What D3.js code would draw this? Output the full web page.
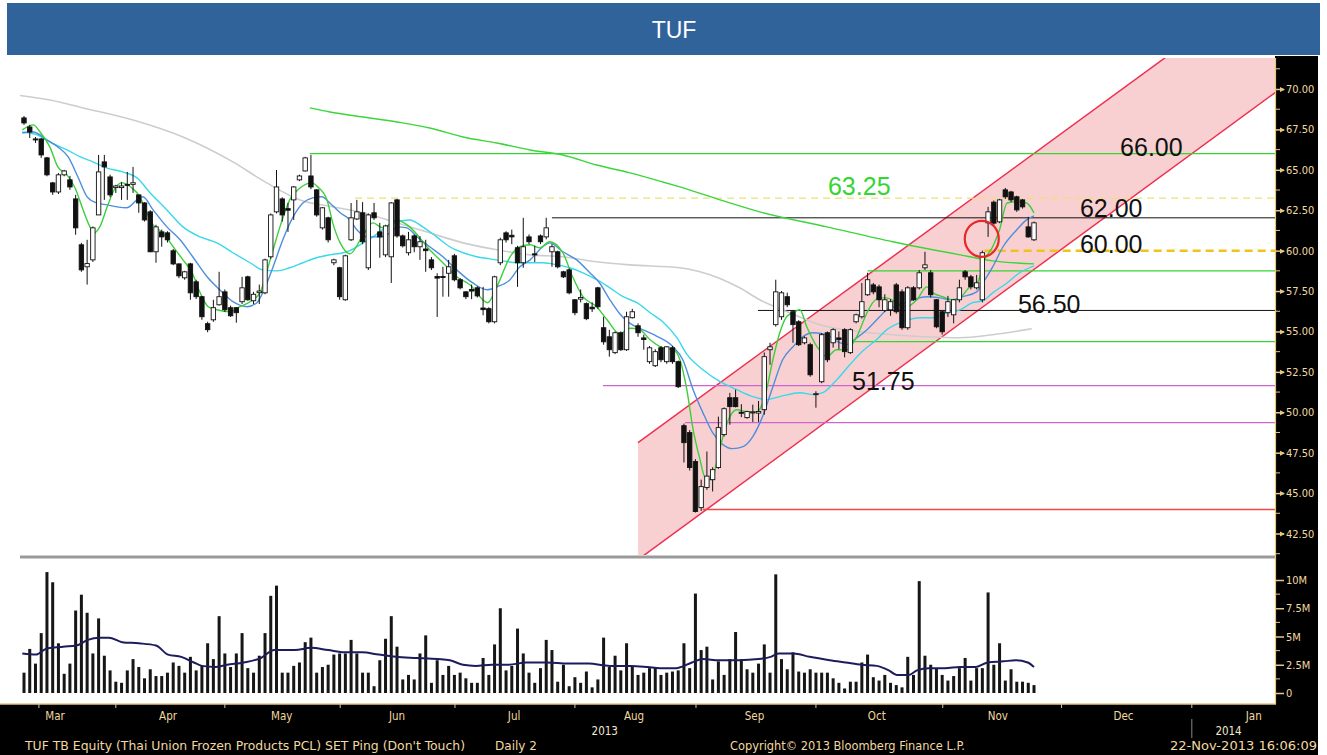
<!DOCTYPE html>
<html><head><meta charset="utf-8">
<script src="https://cdn.jsdelivr.net/npm/d3@7"></script>
<style>body{margin:0;background:#fff}svg{display:block}</style>
</head><body>
<svg id="chart" width="1327" height="755"></svg>
<script>
// ---------------- DATA ----------------
const title = "TUF";
const openP = [68.21,67.65,66.91,66.91,65.74,64.19,63.63,64.69,64.38,63.20,60.36,59.00,59.43,62.21,65.49,64.56,63.90,63.90,64.10,64.10,63.45,62.95,62.40,59.93,61.16,61.10,59.99,59.18,58.32,59.18,58.07,57.15,55.48,55.72,56.65,57.45,56.47,56.47,56.84,58.38,56.90,57.40,57.39,59.62,62.40,63.20,62.60,63.14,64.38,64.93,64.62,63.76,61.41,62.03,59.25,58.94,56.96,60.67,61.96,62.34,58.94,62.34,61.16,59.74,59.62,63.14,60.91,59.87,60.91,60.24,60.10,59.43,58.40,58.40,58.60,59.68,58.20,57.45,57.60,57.70,56.45,56.41,55.60,59.25,61.10,60.95,60.18,59.25,60.85,59.80,60.91,60.85,59.93,59.93,58.69,58.81,56.96,57.00,56.72,56.50,57.70,55.23,54.67,53.69,54.92,53.87,55.85,55.35,54.60,53.13,52.88,53.99,53.13,53.99,53.13,49.17,48.74,46.95,44.10,45.35,45.83,46.58,48.62,50.90,50.90,50.00,49.67,50.00,49.95,50.16,53.87,55.42,55.91,57.15,56.22,55.60,54.30,54.18,51.10,51.89,54.92,54.30,54.60,55.11,53.69,55.60,55.91,57.27,57.88,57.76,56.30,56.34,57.88,57.45,55.23,57.70,57.70,58.94,58.63,56.96,56.22,56.16,56.03,56.96,58.69,58.38,57.70,56.96,61.72,63.00,61.78,63.76,63.63,63.33,63.14,61.47,60.67];
const highP = [68.33,67.78,67.03,66.97,65.80,64.25,64.80,65.00,64.62,63.45,60.48,60.67,61.50,65.92,65.92,64.70,64.07,64.25,64.87,65.18,63.45,63.00,62.50,61.60,61.30,61.20,60.10,59.20,58.75,59.25,58.20,57.20,55.60,56.96,58.69,57.60,56.60,56.50,58.38,58.45,57.45,57.90,59.50,62.30,64.99,63.30,62.95,64.00,64.70,65.80,65.92,63.80,62.70,62.10,59.50,59.00,59.75,62.95,63.14,63.00,62.30,62.95,61.72,61.60,63.00,63.20,61.00,61.16,61.00,60.90,60.67,59.60,58.60,59.00,59.43,59.80,58.30,57.50,57.90,57.80,57.76,56.50,58.45,60.80,61.20,61.30,60.30,62.03,61.00,60.30,61.00,62.03,60.40,60.00,58.75,58.90,57.00,57.60,56.80,56.80,57.76,55.91,55.10,55.00,55.00,56.22,56.40,55.50,54.80,54.10,53.90,54.10,54.10,54.10,53.20,49.30,48.90,47.10,45.83,47.57,46.60,49.73,50.30,51.20,51.40,50.50,50.10,50.47,50.70,53.70,54.30,58.20,57.50,57.40,56.30,55.70,54.70,54.30,51.30,54.90,55.00,55.20,55.00,55.20,55.20,56.10,58.00,58.63,58.00,57.90,57.30,57.00,58.00,57.60,57.80,57.80,58.80,59.93,58.80,57.00,56.30,57.20,57.00,58.20,58.80,58.50,58.50,60.00,62.71,63.10,63.20,63.88,63.70,63.40,63.20,62.09,61.80];
const lowP = [67.78,66.97,66.66,65.74,64.60,63.45,63.50,64.60,63.76,60.98,58.69,57.90,59.30,62.20,63.14,63.30,63.57,63.14,63.14,63.57,62.34,61.80,59.90,59.25,60.24,60.50,59.10,58.30,58.20,56.96,57.00,55.72,54.95,55.60,56.60,56.20,55.90,55.54,56.70,56.90,56.70,56.70,57.30,59.50,62.30,61.80,61.16,61.90,64.30,64.90,63.80,62.10,61.30,60.50,59.10,56.96,56.90,60.60,61.90,60.40,58.80,61.90,59.56,59.60,58.00,60.80,60.20,59.70,59.90,59.43,58.69,58.80,55.90,57.15,57.15,58.10,57.60,57.00,57.00,57.10,56.00,55.50,55.50,59.10,60.50,60.40,57.76,58.94,60.40,59.30,60.40,60.70,59.00,58.90,58.30,57.30,56.00,56.80,55.70,56.20,56.40,54.18,53.44,53.60,53.80,53.80,55.80,54.67,53.87,53.00,52.80,53.10,53.00,53.00,51.50,46.89,46.40,43.80,43.90,45.20,45.10,46.50,48.50,49.23,50.30,49.70,49.60,49.40,49.40,49.85,52.94,55.30,55.72,56.50,54.30,54.10,54.20,52.20,50.28,51.80,53.10,54.00,53.90,53.40,53.60,55.50,55.80,57.20,57.30,56.50,56.20,55.97,56.10,55.10,55.10,56.90,57.60,58.80,57.10,55.20,54.80,55.90,55.50,56.80,58.20,57.60,57.60,56.80,60.85,61.60,61.70,63.20,63.00,62.40,62.60,60.80,60.60];
const closeP = [67.90,67.34,66.85,65.92,64.69,63.63,64.69,64.93,63.94,61.41,58.81,59.20,61.41,64.87,65.18,63.45,64.00,64.00,64.07,64.20,62.95,61.90,59.93,61.47,60.85,60.67,59.18,58.44,58.69,57.39,57.15,55.91,55.11,56.47,57.15,56.34,55.97,56.16,57.70,56.96,57.30,57.50,59.43,62.21,63.94,62.21,62.50,63.94,64.62,65.74,63.94,62.21,62.65,60.67,59.43,57.15,59.68,62.03,62.40,60.55,62.21,62.03,60.85,61.53,62.95,60.91,60.30,60.67,60.24,60.55,60.00,58.94,58.30,58.40,59.00,58.20,57.70,57.15,57.50,57.20,56.35,55.60,58.38,60.67,60.67,60.85,59.25,60.24,60.55,59.75,60.55,61.41,60.24,59.00,58.38,57.39,56.16,57.10,55.79,56.40,56.53,54.36,53.87,54.92,53.87,55.91,56.22,54.92,54.50,53.99,53.75,53.25,54.05,53.13,51.58,48.12,46.58,43.86,45.40,46.05,46.45,49.05,50.22,50.35,50.35,49.95,50.04,50.02,50.05,53.44,54.05,57.45,57.39,56.65,55.42,54.18,54.60,52.32,51.15,54.80,53.25,55.11,54.50,53.75,55.11,56.03,56.84,58.20,57.45,56.96,56.96,56.84,56.22,55.23,57.70,56.96,58.63,59.12,57.27,55.29,54.98,56.84,56.96,57.70,58.38,57.76,58.01,59.87,62.40,61.70,63.14,63.33,63.14,62.52,62.71,60.85,61.72];
const volumeM = [1.8,3.9,2.6,5.3,10.7,9.8,4.4,1.7,2.6,7.3,8.7,7.1,3.5,6.6,3.3,2.0,1.0,0.9,2.0,3.0,2.3,1.3,2.1,1.5,1.5,1.8,2.7,2.4,1.8,3.2,2.0,2.4,4.4,3.0,6.8,3.5,2.3,3.5,5.3,2.2,1.8,3.3,5.3,8.6,9.5,1.8,1.8,2.4,2.7,4.5,4.9,1.8,2.3,2.5,3.4,3.5,3.5,4.7,3.5,1.8,1.8,0.6,2.9,4.8,6.8,4.1,1.2,1.6,1.2,3.5,5.1,0.9,2.9,1.6,2.4,1.6,1.8,1.3,0.9,0.9,3.1,1.6,4.3,7.5,2.0,2.4,5.7,3.5,1.8,0.9,2.2,4.7,3.8,1.0,2.5,0.6,1.4,0.9,1.9,0.5,1.2,4.9,2.3,3.3,2.0,4.4,2.4,1.6,1.8,2.2,2.3,1.6,1.8,1.9,2.0,4.4,2.2,8.8,3.8,4.1,1.2,2.8,1.6,3.0,5.4,3.0,2.1,1.8,2.6,4.3,1.8,10.5,3.0,2.1,3.6,1.9,1.8,2.1,1.8,1.8,1.8,1.3,0.9,0.4,1.0,1.0,2.7,3.4,1.4,1.1,1.6,0.9,0.7,0.5,3.2,1.6,9.9,3.3,2.5,2.2,1.6,1.1,1.5,2.2,3.1,1.1,2.2,2.2,8.9,2.5,4.4,1.1,2.1,1.0,1.0,0.9,0.7];

// moving averages: [trading-day index, value]
const maFast = [[-0.3,67.47],[1.6,67.78],[2.8,67.34],[4.5,66.42],[5.9,65.18],[7.5,64.69],[8.9,63.88],[10.3,62.52],[11.5,61.47],[12.2,61.1],[13.2,61.47],[14.5,62.71],[15.9,63.88],[17.1,64.19],[18.8,63.88],[20.2,63.33],[21.4,62.34],[22.5,61.6],[24.2,61.1],[26.0,60.24],[27.7,59.43],[29.3,58.63],[30.7,57.39],[32.1,56.53],[33.6,56.34],[35.9,56.22],[37.6,56.53],[39.4,56.84],[41.1,57.39],[42.9,59.43],[44.6,61.47],[46.3,63.14],[48.1,63.88],[50.2,64.19],[51.2,63.94],[52.8,63.14],[53.8,61.72],[55.1,60.48],[56.8,59.8],[58.9,60.85],[60.8,61.72],[62.5,61.41],[65.0,61.9],[67.2,61.47],[70.7,60.05],[73.0,59.25],[75.4,58.38],[77.7,57.89],[80.8,56.78],[82.4,57.76],[84.7,59.62],[86.4,60.24],[88.2,60.36],[89.9,60.17],[91.6,60.55],[93.9,59.87],[95.6,58.38],[97.4,57.15],[99.8,56.53],[101.6,55.72],[103.8,54.85],[105.6,55.2],[107.3,55.11],[109.1,54.49],[111.3,53.99],[113.1,53.87],[114.3,53.25],[115.5,51.4],[116.6,48.93],[117.8,47.07],[118.6,46.02],[119.9,45.83],[120.7,46.89],[121.8,48.5],[123.0,49.73],[124.2,50.16],[126.0,50.04],[127.7,50.04],[129.1,50.97],[130.5,53.25],[131.7,54.92],[132.9,55.91],[134.0,56.16],[135.2,56.34],[136.4,55.29],[138.2,54.05],[139.9,53.44],[141.6,53.87],[143.4,53.87],[145.1,54.67],[146.9,56.16],[147.9,56.78],[149.1,57.08],[150.3,57.08],[152.1,56.78],[153.8,56.53],[155.6,56.96],[157.3,57.76],[158.4,57.39],[160.1,57.15],[161.8,56.96],[163.1,57.08],[164.8,57.76],[166.2,58.07],[167.4,59.43],[168.8,60.24],[170.0,61.29],[171.3,62.95],[173.0,63.02],[174.7,62.95],[176.0,62.34]];
const maMid = [[-0.3,67.28],[1.6,67.34],[4.0,66.85],[5.9,66.42],[7.7,65.8],[9.4,64.56],[11.0,63.33],[12.7,62.95],[14.5,62.83],[16.2,62.71],[17.9,62.65],[19.7,63.14],[20.7,63.33],[22.5,62.52],[24.9,61.47],[27.2,60.67],[29.4,59.62],[31.9,58.38],[34.1,57.58],[36.4,56.84],[38.9,56.53],[40.6,56.78],[41.6,57.39],[43.4,58.99],[45.1,60.67],[46.9,62.09],[48.6,62.95],[50.3,63.26],[51.9,63.33],[53.3,62.95],[55.1,62.34],[56.8,61.9],[58.0,61.29],[59.8,60.85],[62.0,60.85],[63.8,61.1],[65.0,61.47],[66.7,61.41],[68.5,60.85],[70.7,60.24],[73.0,59.62],[75.4,58.81],[78.2,58.0],[80.7,57.58],[82.4,57.76],[84.7,58.2],[86.4,59.0],[88.2,59.43],[90.4,60.24],[91.6,60.48],[93.9,59.93],[96.3,59.43],[98.6,58.63],[100.3,58.0],[102.1,56.96],[103.8,56.1],[105.6,55.5],[107.8,55.11],[110.3,54.7],[113.1,54.05],[114.8,53.25],[116.6,51.4],[118.3,49.98],[120.0,48.74],[121.8,48.0],[123.5,47.75],[125.3,47.88],[127.0,48.5],[128.7,49.73],[130.5,51.58],[132.2,53.25],[134.0,54.05],[135.7,54.67],[137.5,54.92],[139.9,54.8],[141.6,54.4],[143.4,54.2],[145.1,54.6],[146.9,55.11],[149.1,55.91],[150.3,56.34],[152.6,56.65],[154.9,56.96],[157.3,57.15],[159.6,57.08],[161.7,56.96],[163.6,57.15],[166.0,57.45],[167.1,58.0],[168.8,58.99],[170.6,60.24],[173.0,61.29],[174.7,61.9],[176.0,62.15]];
const maSlow = [[-0.3,67.34],[2.3,67.16],[4.5,66.72],[7.5,66.23],[9.8,65.8],[12.0,65.49],[14.5,65.11],[17.2,64.87],[19.7,64.5],[22.0,63.57],[24.9,62.52],[27.7,61.47],[30.7,60.85],[33.6,60.48],[36.4,59.87],[39.4,59.25],[41.6,58.81],[44.1,58.75],[46.3,58.94],[48.6,59.25],[51.0,59.56],[53.3,59.74],[55.6,59.87],[56.8,60.0],[59.1,60.48],[60.8,60.85],[63.2,61.47],[65.0,61.78],[67.2,61.9],[69.5,61.47],[71.9,60.85],[74.2,60.24],[76.5,59.87],[78.9,59.62],[81.2,59.49],[83.4,59.37],[85.9,59.25],[88.2,59.25],[90.4,59.25],[92.9,59.12],[95.1,58.94],[97.4,58.63],[99.8,58.2],[102.1,57.7],[104.4,57.15],[106.8,56.78],[109.1,56.16],[111.3,55.6],[113.8,54.6],[115.5,53.6],[118.3,52.63],[121.3,51.89],[124.2,51.4],[127.0,50.97],[129.4,50.78],[131.7,50.97],[135.2,51.21],[137.5,51.09],[139.2,51.21],[141.6,52.0],[143.9,52.94],[146.2,53.8],[148.6,54.5],[150.3,55.1],[153.1,55.6],[156.1,55.85],[158.4,55.85],[160.8,56.16],[163.1,56.34],[165.3,56.78],[167.1,56.9],[168.8,57.39],[171.3,58.0],[173.5,58.63],[176.0,59.06]];
const ma100 = [[-0.7,69.6],[4.5,69.32],[10.3,68.83],[19.0,68.08],[27.7,67.03],[36.4,65.49],[42.3,64.19],[48.1,63.14],[53.8,62.71],[59.1,62.34],[65.0,61.72],[70.7,61.1],[76.5,60.48],[82.4,60.05],[88.2,59.74],[93.9,59.62],[99.8,59.31],[105.6,59.12],[114.3,58.94],[117.8,58.69],[124.7,57.7],[128.2,56.96],[133.4,56.16],[138.7,55.42],[145.6,54.98],[151.4,54.8],[157.3,54.67],[163.1,54.61],[168.8,54.8],[175.6,55.17]];
const ma200 = [[49.8,68.83],[53.3,68.58],[59.1,68.27],[65.0,67.96],[70.7,67.59],[76.5,67.03],[82.4,66.66],[88.2,66.23],[93.9,65.92],[99.8,65.30],[105.6,64.81],[111.3,64.25],[114.3,63.94],[121.3,63.14],[128.2,62.40],[139.9,61.47],[151.4,60.55],[163.1,59.74],[168.8,59.37],[176.0,59.18]];
const volMA = [[-0.3,3.5],[2.1,3.4],[3.8,3.9],[6.8,4.1],[9.1,4.2],[11.1,4.7],[13.1,4.9],[14.8,4.9],[17.1,4.5],[20.0,4.4],[23.0,4.2],[25.1,3.4],[27.4,3.2],[29.6,2.7],[31.0,2.4],[33.3,2.3],[35.4,2.5],[38.3,2.7],[41.3,3.1],[43.6,3.8],[47.2,3.8],[50.0,4.0],[53.0,3.8],[55.9,3.6],[58.9,3.6],[61.8,3.4],[64.8,3.2],[68.5,3.1],[72.1,3.0],[74.2,2.9],[76.5,2.5],[78.7,2.4],[81.5,2.5],[84.5,2.5],[87.5,2.7],[91.1,2.7],[94.8,2.6],[98.4,2.6],[102.1,2.4],[105.7,2.4],[108.7,2.3],[110.8,2.2],[113.6,2.2],[116.4,2.7],[118.3,3.0],[121.1,2.9],[124.6,2.9],[128.0,3.0],[130.1,3.2],[131.5,3.5],[134.1,3.5],[136.9,3.2],[140.4,2.9],[143.2,2.7],[146.0,2.5],[148.6,2.4],[150.7,2.0],[152.1,1.6],[154.2,1.6],[155.6,2.0],[157.7,2.2],[160.5,2.2],[163.1,2.3],[165.9,2.3],[167.9,2.7],[170.7,2.8],[172.8,2.9],[174.9,2.7],[176.0,2.3]];

// support / resistance levels
const levelNames = ["g66","y6325","k62","y60","g5875","k5630","g5437","m5165","m4936","r44"];
const levelValues = [66.0,63.25,62.03,60.0,58.75,56.3,54.37,51.65,49.36,43.98];
const levelStart = [49.8,57.7,92.0,167.4,147.0,127.9,143.9,100.9,115.2,118.3];
// trend channel: [index, price] end points
const channelUpper = [[107.0,48.12],[218.5,77.03]];
const channelLower = [[107.0,40.88],[218.5,69.90]];
// annotations
const annotText = ["66.00","63.25","62.00","60.00","56.50","51.75"];
const annotIdx = [191.0,140.1,184.0,184.0,173.2,144.3];
const annotPrice = [65.87,63.45,62.09,59.87,56.16,51.40];
const circleAt = [166.9,60.73];
// axes
const priceTicks = [42.5,45,47.5,50,52.5,55,57.5,60,62.5,65,67.5,70];
const volTicks = [0,2.5,5,7.5,10];
const volTickLabels = ["0","2.5M","5M","7.5M","10M"];
const monthLabels = ["Mar","Apr","May","Jun","Jul","Aug","Sep","Oct","Nov","Dec","Jan"];
const monthPos = [5.4,25.1,44.9,65.0,85.4,106.3,127.3,148.6,169.7,191.6,214.3];
const monthBounds = [2.6,16.0,35.0,55.1,75.1,96.0,117.1,138.0,160.1,180.8,203.5];
const yearLabels = ["2013","2014"];
const yearPos = [101.2,209.9];
const footerTexts = ["TUF TB Equity (Thai Union Frozen Products PCL) SET Ping (Don't Touch)","Daily 2","Copyright\u00A9 2013 Bloomberg Finance L.P.","22-Nov-2013 16:06:09"];

// ---------------- STYLE / LAYOUT ----------------
const L = {left:20, right:1275, top:58, pBottom:555, vTop:560, vBottom:703, axisRight:1318};
const tan = "#e9c77e", tanText = "#f1d9a0";
const levelStyle = {
  g66:{c:"#33d633",w:1.3}, y6325:{c:"#f0e070",w:1.3,d:"7,5"}, k62:{c:"#111",w:1},
  y60:{c:"#f3c21a",w:2.5,d:"8,5"}, g5875:{c:"#33d633",w:1.3}, k5630:{c:"#111",w:1},
  g5437:{c:"#33d633",w:1.3}, m5165:{c:"#cc66cc",w:1.2}, m4936:{c:"#cc66cc",w:1.2}, r44:{c:"#f04848",w:1.5}
};
const footerLayout = [{x:25,len:440},{x:495,len:42},{x:730,len:235},{x:1170,len:147}];
const axisFont = "'DejaVu Sans Condensed','DejaVu Sans',sans-serif";

const svg = d3.select("#chart");
const x = d3.scaleLinear().domain([0,176]).range([24,1034]);
const y = d3.scaleLinear().domain([42.5,70]).range([533.5,89]);
const yv = d3.scaleLinear().domain([0,10]).range([693,580]);

svg.append("rect").attr("width",1327).attr("height",755).attr("fill","#fff");
// title bar
svg.append("rect").attr("x",7).attr("y",3).attr("width",1313).attr("height",52).attr("fill","#31639b");
svg.append("text").attr("x",674).attr("y",38).attr("text-anchor","middle").attr("fill","#fff")
  .attr("font-family","'Liberation Sans',Arial,sans-serif").attr("font-size",23).text(title);

// black axis bands
svg.append("rect").attr("x",L.right).attr("y",56).attr("width",L.axisRight-L.right).attr("height",755-56).attr("fill","#000");
svg.append("rect").attr("x",0).attr("y",L.vBottom+1).attr("width",L.axisRight).attr("height",755-L.vBottom-1).attr("fill","#000");

const defs = svg.append("defs");
defs.append("clipPath").attr("id","pclip").append("rect")
  .attr("x",L.left).attr("y",L.top).attr("width",L.right-L.left).attr("height",L.pBottom-L.top);
const P = svg.append("g").attr("clip-path","url(#pclip)");

// channel
const chPoly = [channelUpper[0],channelUpper[1],channelLower[1],channelLower[0]];
P.append("path").attr("d", d3.line().x(d=>x(d[0])).y(d=>y(d[1]))(chPoly)+"Z")
  .attr("fill","#f9d0d1");
[channelUpper,channelLower].forEach(c=>{
  P.append("line").attr("x1",x(c[0][0])).attr("y1",y(c[0][1])).attr("x2",x(c[1][0])).attr("y2",y(c[1][1]))
   .attr("stroke","#ee3050").attr("stroke-width",1.5);
});

// levels
levelNames.forEach((n,i)=>{
  const s = levelStyle[n];
  P.append("line").attr("x1",x(levelStart[i])).attr("x2",L.right).attr("y1",y(levelValues[i])).attr("y2",y(levelValues[i]))
   .attr("stroke",s.c).attr("stroke-width",s.w).attr("stroke-dasharray",s.d||null);
});

// moving averages
const ln = d3.line().x(d=>x(d[0])).y(d=>y(d[1])).curve(d3.curveMonotoneX);
const maDefs = [[ma100,"#cdcdcd",1.6],[ma200,"#3bd63b",1.4],[maSlow,"#39d8ea",1.4],[maMid,"#4d8fdc",1.4],[maFast,"#3ccf3c",1.4]];
maDefs.forEach(([d,c,w])=>P.append("path").attr("d",ln(d)).attr("fill","none").attr("stroke",c).attr("stroke-width",w));

// candles
const idx = d3.range(openP.length);
const cg = P.append("g");
cg.selectAll("line.w").data(idx).join("line").attr("class","w")
  .attr("x1",i=>x(i)).attr("x2",i=>x(i)).attr("y1",i=>y(highP[i])).attr("y2",i=>y(lowP[i]))
  .attr("stroke","#111").attr("stroke-width",1);
cg.selectAll("rect.b").data(idx).join("rect").attr("class","b")
  .attr("x",i=>x(i)-2.2).attr("width",4.4)
  .attr("y",i=>y(Math.max(openP[i],closeP[i])))
  .attr("height",i=>Math.max(1,Math.abs(y(openP[i])-y(closeP[i]))))
  .attr("fill",i=>closeP[i]>openP[i]?"#fff":"#111")
  .attr("stroke","#111").attr("stroke-width",0.9);

// circle
P.append("ellipse").attr("cx",x(circleAt[0])).attr("cy",y(circleAt[1])).attr("rx",17).attr("ry",18)
  .attr("fill","none").attr("stroke","#e82828").attr("stroke-width",2.2);

// annotations
annotText.forEach((t,i)=>{
  P.append("text").attr("x",x(annotIdx[i])).attr("y",y(annotPrice[i])).text(t)
   .attr("font-family","'Liberation Sans',Arial,sans-serif").attr("font-size",25)
   .attr("fill", t==="63.25"?"#33d633":"#111");
});

// separator
svg.append("rect").attr("x",L.left).attr("y",555.5).attr("width",L.right-L.left).attr("height",3).attr("fill","#9a9a9a");

// volume
const V = svg.append("g");
V.selectAll("rect").data(idx).join("rect")
  .attr("x",i=>x(i)-1.5).attr("width",3)
  .attr("y",i=>yv(volumeM[i])).attr("height",i=>yv(0)-yv(volumeM[i])).attr("fill","#161616");
V.append("path").attr("d",d3.line().x(d=>x(d[0])).y(d=>yv(d[1])).curve(d3.curveMonotoneX)(volMA))
  .attr("fill","none").attr("stroke","#1c1c5c").attr("stroke-width",2);

// frame lines
svg.append("line").attr("x1",L.right+0.5).attr("x2",L.right+0.5).attr("y1",L.top).attr("y2",L.vBottom+1).attr("stroke",tan).attr("stroke-width",1.2);
svg.append("line").attr("x1",0).attr("x2",L.right+1).attr("y1",L.vBottom+1).attr("y2",L.vBottom+1).attr("stroke",tan).attr("stroke-width",1.5);

// price axis
const pa = svg.append("g").attr("transform",`translate(${L.right},0)`)
  .call(d3.axisRight(y).tickValues(priceTicks).tickFormat(d3.format(".2f")).tickSize(9).tickPadding(2));
pa.select(".domain").remove();
pa.selectAll(".tick line").attr("stroke",tan).attr("stroke-width",1.5);
pa.selectAll(".tick text").attr("fill",tanText).attr("font-family",axisFont).attr("font-size",11).attr("font-stretch","condensed");
pa.selectAll(".tick").append("path").attr("d","M5,-2.5L10,0L5,2.5Z").attr("fill",tan);
svg.append("g").selectAll("line").data(priceTicks.map(v=>v+1.25).concat([41.25])).join("line")
  .attr("x1",L.right).attr("x2",L.right+5).attr("y1",d=>y(d)).attr("y2",d=>y(d)).attr("stroke",tan);

// volume axis
const va = svg.append("g").attr("transform",`translate(${L.right},0)`)
  .call(d3.axisRight(yv).tickValues(volTicks).tickFormat((d,i)=>volTickLabels[i]).tickSize(9).tickPadding(2));
va.select(".domain").remove();
va.selectAll(".tick line").attr("stroke",tan).attr("stroke-width",1.5);
va.selectAll(".tick text").attr("fill",tanText).attr("font-family",axisFont).attr("font-size",11).attr("font-stretch","condensed");
svg.append("g").selectAll("line").data(volTicks.slice(0,4).map(v=>v+1.25)).join("line")
  .attr("x1",L.right).attr("x2",L.right+5).attr("y1",d=>yv(d)).attr("y2",d=>yv(d)).attr("stroke",tan);

// bottom time axis
const ta = svg.append("g").attr("font-family",axisFont).attr("font-size",11.5).attr("font-stretch","condensed");
ta.selectAll("line.mb").data(monthBounds).join("line").attr("class","mb")
  .attr("x1",d=>x(d)).attr("x2",d=>x(d)).attr("y1",L.vBottom+1).attr("y2",L.vBottom+5).attr("stroke","#c8c8c8");
ta.selectAll("text.m").data(monthLabels).join("text").attr("class","m")
  .attr("x",(d,i)=>x(monthPos[i])).attr("y",720).attr("text-anchor","middle").attr("fill",tanText).text(d=>d);
ta.selectAll("text.yr").data(yearLabels).join("text").attr("class","yr")
  .attr("x",(d,i)=>x(yearPos[i])).attr("y",735).attr("text-anchor","middle").attr("fill","#f3ead0").text(d=>d);
ta.append("line").attr("x1",x(203.5)).attr("x2",x(203.5)).attr("y1",719).attr("y2",738).attr("stroke","#888");

// footer
const ft = svg.append("g").attr("font-family",axisFont).attr("font-size",12.5).attr("fill",tanText);
footerTexts.forEach((t,i)=>{
  ft.append("text").attr("x",footerLayout[i].x).attr("y",750).text(t)
    .attr("textLength",footerLayout[i].len).attr("lengthAdjust","spacingAndGlyphs");
});
</script>
</body></html>
